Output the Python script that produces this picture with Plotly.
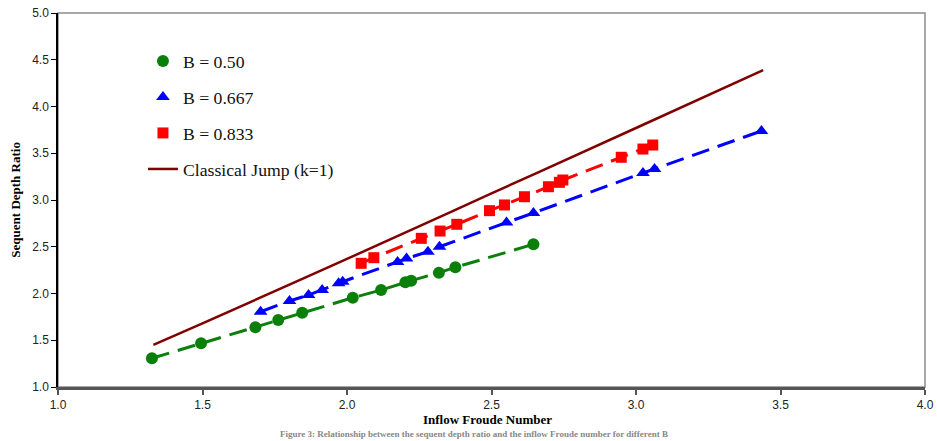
import plotly.graph_objects as go

# ---- data ----
fr_b050 = [1.325, 1.495, 1.683, 1.762, 1.845, 2.020, 2.118, 2.202, 2.222, 2.318, 2.375, 2.645]
y_b050 = [1.307, 1.467, 1.639, 1.717, 1.795, 1.955, 2.037, 2.120, 2.137, 2.223, 2.280, 2.526]

fr_b0667 = [1.701, 1.801, 1.867, 1.914, 1.971, 1.985, 2.175, 2.206, 2.280, 2.320, 2.552, 2.645, 3.024, 3.064, 3.434]
y_b0667 = [1.805, 1.920, 1.984, 2.037, 2.109, 2.126, 2.337, 2.374, 2.447, 2.500, 2.759, 2.861, 3.289, 3.332, 3.738]

fr_b0833 = [2.049, 2.093, 2.257, 2.322, 2.380, 2.493, 2.545, 2.614, 2.697, 2.735, 2.747, 2.949, 3.024, 3.058]
y_b0833 = [2.323, 2.383, 2.590, 2.668, 2.740, 2.886, 2.947, 3.035, 3.142, 3.189, 3.214, 3.457, 3.545, 3.588]

fr_classic = [1.33, 1.5, 2.0, 2.5, 3.0, 3.44]
y_classic = [1.45, 1.68, 2.37, 3.07, 3.77, 4.39]

series_names = ["B = 0.50", "B = 0.667", "B = 0.833", "Classical Jump (k=1)"]
x_ticks = [1.0, 1.5, 2.0, 2.5, 3.0, 3.5, 4.0]
y_ticks = [1.0, 1.5, 2.0, 2.5, 3.0, 3.5, 4.0, 4.5, 5.0]

GREEN = "#0a800a"
BLUE = "#0000ff"
RED = "#ff0000"
MAROON = "#800000"
DASH = "18px,9px"

fig = go.Figure()

series = [
    (fr_b050, y_b050, GREEN, "circle", series_names[0], 12),
    (fr_b0667, y_b0667, BLUE, "triangle-up", series_names[1], 12),
    (fr_b0833, y_b0833, RED, "square", series_names[2], 11),
]

for i, (xs, ys, col, sym, name, sz) in enumerate(series):
    fig.add_trace(go.Scatter(
        x=xs, y=ys, mode="lines", line=dict(color=col, width=3, dash=DASH),
        showlegend=False, hoverinfo="skip"))
    fig.add_trace(go.Scatter(
        x=xs, y=ys, mode="markers", name=name, legendgroup="g%d" % i,
        marker=dict(color=col, symbol=sym, size=sz, line=dict(width=0))))

fig.add_trace(go.Scatter(
    x=fr_classic, y=y_classic, mode="lines", name=series_names[3], legendgroup="g3",
    line=dict(color=MAROON, width=2.5, shape="spline")))

# plot-area border (top/right grey)
fig.add_shape(type="rect", xref="paper", yref="paper", x0=0, x1=1, y0=0, y1=1,
              line=dict(color="#8c8c8c", width=1.5), layer="below")

fig.update_layout(
    width=937, height=441,
    margin=dict(l=58, r=12, t=13, b=54, autoexpand=False),
    paper_bgcolor="white", plot_bgcolor="white",
    font=dict(family="Liberation Sans", size=12, color="#222"),
    showlegend=True,
    legend=dict(x=0.098, y=0.92, xanchor="left", yanchor="top",
                font=dict(family="Liberation Serif", size=17.7, color="#111"),
                bgcolor="rgba(0,0,0,0)", tracegroupgap=10, itemwidth=30),
    xaxis=dict(range=[1, 4], tickvals=x_ticks, ticktext=["%.1f" % v for v in x_ticks],
               showgrid=False, zeroline=False, showline=True, linecolor="#555",
               linewidth=2.5, ticks="outside", ticklen=5, tickcolor="#555", tickwidth=1.5,
               tickfont=dict(family="Liberation Sans", size=12, color="#222"),
               automargin=False),
    yaxis=dict(range=[1, 5], tickvals=y_ticks, ticktext=["%.1f" % v for v in y_ticks],
               showgrid=False, zeroline=False, showline=True, linecolor="#000",
               linewidth=1.5, ticks="outside", ticklen=5, tickcolor="#000", tickwidth=1,
               tickfont=dict(family="Liberation Sans", size=12, color="#222"),
               automargin=False),
)

# axis titles
fig.add_annotation(xref="paper", yref="paper", x=0.4957, y=-0.087, yanchor="middle",
                   showarrow=False, text="<b>Inflow Froude Number</b>",
                   font=dict(family="Liberation Serif", size=13, color="#000"))
fig.add_annotation(xref="paper", yref="paper", x=-0.05, y=0.5, xanchor="center",
                   yanchor="middle", textangle=-90, showarrow=False,
                   text="<b>Sequent Depth Ratio</b>",
                   font=dict(family="Liberation Serif", size=13, color="#000"))

# caption at the bottom edge
fig.add_annotation(
    xref="paper", yref="paper", x=0.48, y=-0.142, yanchor="bottom", showarrow=False,
    borderpad=0,
    text="<b>Figure 3: Relationship between the sequent depth ratio and the inflow Froude number for different B</b>",
    font=dict(family="Liberation Serif", size=9, color="#888"))

fig.write_html("out.html", config={"displayModeBar": False},
               post_script="document.body.style.margin='0';document.body.style.overflow='hidden';")
